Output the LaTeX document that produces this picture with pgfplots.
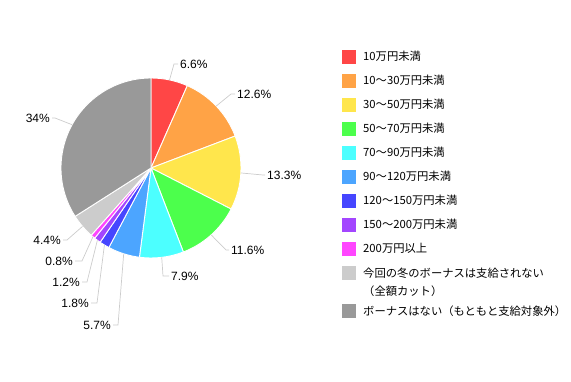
\documentclass[border=0pt]{standalone}
\usepackage{pgfplots}
\pgfplotsset{compat=1.18}
\usepackage{pgfplotstable}
\usepackage{fontspec}
\setmainfont{Liberation Sans}
\newfontfamily\jp{Noto Sans CJK JP}

\definecolor{pc0}{HTML}{FF4646}
\definecolor{pc1}{HTML}{FFA346}
\definecolor{pc2}{HTML}{FFE64C}
\definecolor{pc3}{HTML}{4CFF4C}
\definecolor{pc4}{HTML}{4CFFFF}
\definecolor{pc5}{HTML}{4CA5FF}
\definecolor{pc6}{HTML}{4646FF}
\definecolor{pc7}{HTML}{A346FF}
\definecolor{pc8}{HTML}{FF46FF}
\definecolor{pc9}{HTML}{CCCCCC}
\definecolor{pc10}{HTML}{999999}
\definecolor{leader}{HTML}{CCCCCC}

\pgfplotstableread{
v
6.6
12.6
13.3
11.6
7.9
5.7
1.8
1.2
0.8
4.4
34
}\piedata

% total
\gdef\pietot{0}
\foreach \i in {0,...,10}{%
  \pgfplotstablegetelem{\i}{v}\of\piedata
  \pgfmathsetmacro\pietmp{\pietot+\pgfplotsretval}%
  \xdef\pietot{\pietmp}%
}
% angles (clockwise from top)
\gdef\piecum{0}
\foreach \i in {0,...,10}{%
  \pgfplotstablegetelem{\i}{v}\of\piedata
  \pgfmathsetmacro\pieA{90-\piecum/\pietot*360}%
  \pgfmathsetmacro\pienc{\piecum+\pgfplotsretval}%
  \pgfmathsetmacro\pieB{90-\pienc/\pietot*360}%
  \pgfmathsetmacro\pieM{(\pieA+\pieB)/2}%
  \expandafter\xdef\csname pa\i\endcsname{\pieA}%
  \expandafter\xdef\csname pb\i\endcsname{\pieB}%
  \expandafter\xdef\csname pm\i\endcsname{\pieM}%
  \expandafter\xdef\csname pv\i\endcsname{\pgfplotsretval}%
  \xdef\piecum{\pienc}%
}

\newcommand{\pielabel}[6]{% idx, elbowx, elbowy, endx, anchor, textx
  \draw[leader, line width=0.7pt] (axis cs:151,168) ++(\csname pm#1\endcsname:90pt) -- (axis cs:#2,#3) -- (axis cs:#4,#3);
  \node[anchor=#5, inner sep=0pt, font=\fontsize{12}{14}\selectfont] at (axis cs:#6,#3) {\csname pv#1\endcsname\%};
}
\newcommand{\legendrow}[3]{% y, color, text
  \fill[#2] (axis cs:342,#1-7) rectangle (axis cs:356,#1+7);
  \node[anchor=west, inner sep=0pt, font=\jp\fontsize{11.3}{18}\selectfont, align=left] at (axis cs:363,#1) {#3};
}

\begin{document}
\begin{tikzpicture}
\begin{axis}[
  width=571pt, height=381pt, scale only axis,
  xmin=0, xmax=571, ymin=0, ymax=381, y dir=reverse,
  hide axis, clip=false,
]
\path (axis cs:0,0) rectangle (axis cs:571,381);
\pgfplotsinvokeforeach{0,...,10}{%
  \fill[pc#1, draw=white, line width=0.9pt, line join=round]
    (axis cs:151,168) -- ++(\csname pa#1\endcsname:90pt)
    arc[start angle=\csname pa#1\endcsname, end angle=\csname pb#1\endcsname, radius=90pt] -- cycle;
}
\pielabel{0}{174}{64}{178}{west}{180}
\pielabel{1}{231}{94}{235}{west}{237}
\pielabel{2}{263}{175}{265}{west}{267}
\pielabel{3}{226}{250}{229}{west}{231}
\pielabel{4}{163}{276}{169}{west}{171}
\pielabel{5}{118}{325}{113}{east}{111}
\pielabel{6}{97}{303}{91}{east}{89}
\pielabel{7}{87}{282}{82}{east}{80}
\pielabel{8}{82}{261}{75}{east}{73}
\pielabel{9}{67}{240}{63}{east}{61}
\pielabel{10}{55}{118}{52}{east}{50}

\legendrow{56.5}{pc0}{10万円未満}
\legendrow{80.5}{pc1}{10～30万円未満}
\legendrow{104.5}{pc2}{30～50万円未満}
\legendrow{128.5}{pc3}{50～70万円未満}
\legendrow{152.5}{pc4}{70～90万円未満}
\legendrow{176.5}{pc5}{90～120万円未満}
\legendrow{200.5}{pc6}{120～150万円未満}
\legendrow{224.5}{pc7}{150～200万円未満}
\legendrow{248.5}{pc8}{200万円以上}
\fill[pc9] (axis cs:342,266) rectangle (axis cs:356,280);
\node[anchor=west, inner sep=0pt, font=\jp\fontsize{11.3}{18}\selectfont, align=left] at (axis cs:363,282) {今回の冬のボーナスは支給されない\\（全額カット）};
\legendrow{311}{pc10}{ボーナスはない（もともと支給対象外）}
\end{axis}
\end{tikzpicture}
\end{document}
